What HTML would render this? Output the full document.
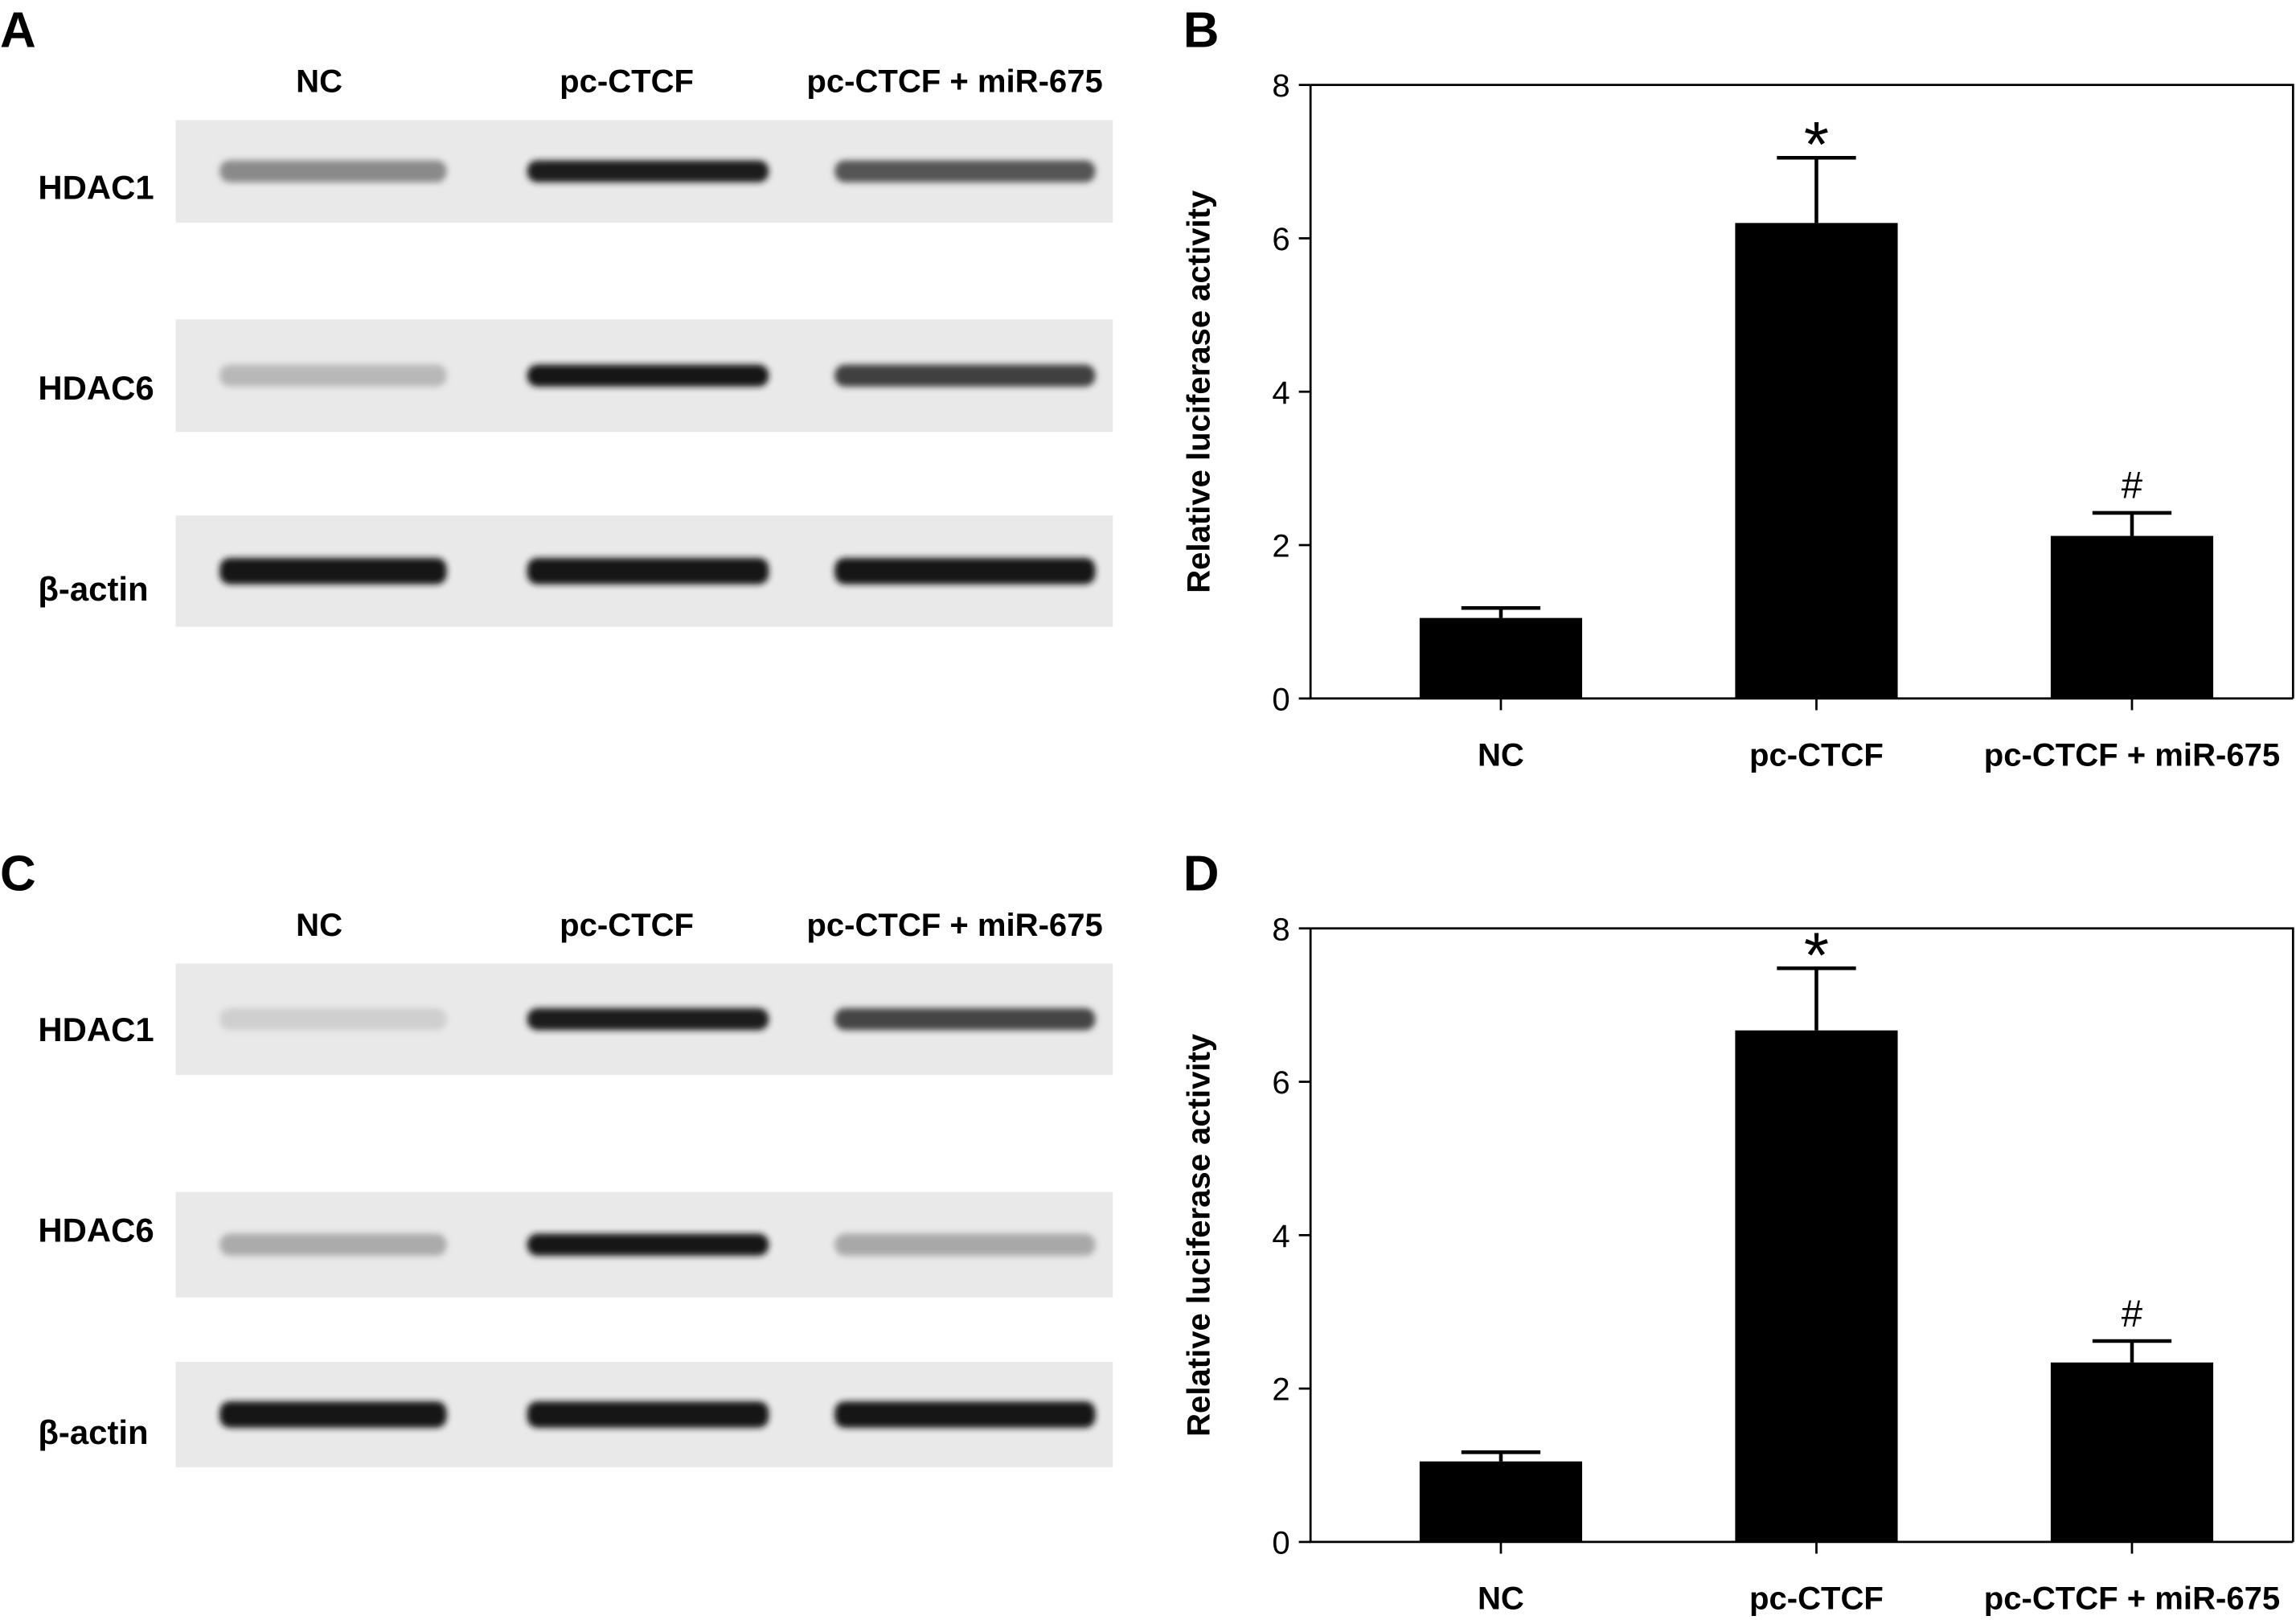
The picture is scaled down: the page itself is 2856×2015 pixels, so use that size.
<!DOCTYPE html>
<html><head><meta charset="utf-8"><style>
html,body{margin:0;padding:0;background:#fff;}
svg{display:block;font-family:"Liberation Sans","DejaVu Sans",sans-serif;}
</style></head><body>
<svg id="fig" width="2856" height="2015" viewBox="0 0 1568 1106.3" xmlns="http://www.w3.org/2000/svg">
<defs><filter id="blur" x="-10%" y="-50%" width="120%" height="200%"><feGaussianBlur stdDeviation="2.2"/></filter></defs>
<g id="blots"></g>
<g id="chartB"></g>
<g id="chartD"></g>
<text x="0" y="32" font-size="34" font-weight="bold">A</text>
<text x="808" y="32" font-size="34" font-weight="bold">B</text>
<text x="0" y="608" font-size="34" font-weight="bold">C</text>
<text x="808" y="608" font-size="34" font-weight="bold">D</text>
</svg>
<script>
const NS="http://www.w3.org/2000/svg";
const categories=["NC","pc-CTCF","pc-CTCF + miR-675"];
const valuesB=[1.05,6.2,2.12];
const errorsB=[0.13,0.85,0.3];
const marksB=["","*","#"];
const valuesD=[1.05,6.67,2.34];
const errorsD=[0.12,0.81,0.28];
const marksD=["","*","#"];
const yTicks=[0,2,4,6,8];
const blotRows=["HDAC1","HDAC6","β-actin"];
const bandShadesA=[["#8a8a8a","#1e1e1e","#555"],["#b8b8b8","#141414","#404040"],["#141414","#141414","#141414"]];
const bandShadesC=[["#cfcfcf","#1e1e1e","#444"],["#ababab","#141414","#a8a8a8"],["#141414","#141414","#141414"]];

function mk(tag,attrs,parent){const e=document.createElementNS(NS,tag);for(const k in attrs)e.setAttribute(k,attrs[k]);parent.appendChild(e);return e;}

function chart(g,top,values,errors,marks,prefix){
  const x0=895,x1=1566,y0=top+419,yT=top;
  const y=v=>y0-(v/8)*(y0-yT);
  const xc=i=>1025+i*215.5;
  const bw=111;
  let ax=mk("path",{d:`M${x0},${yT}H${x1}V${y0}M${x0},${yT}V${y0}H${x1}`,stroke:"#000","stroke-width":1.5,fill:"none"},g);
  
  
  yTicks.forEach(t=>{
    const l=mk("line",{x1:x0-8,x2:x0,y1:y(t),y2:y(t),stroke:"#000","stroke-width":1.5},g);
    
    
    const tx=mk("text",{x:x0-14,y:y(t)+8,"font-size":22,"text-anchor":"end"},g);tx.textContent=t;
    
    
  });
  const yt=mk("text",{x:0,y:0,"font-size":22,"font-weight":"bold","text-anchor":"middle",transform:`translate(826,${(yT+y0)/2}) rotate(-90)`},g);
  yt.textContent="Relative luciferase activity";
  
  
  categories.forEach((c,i)=>{
    const cx=xc(i);
    const b=mk("rect",{x:cx-bw/2,y:y(values[i]),width:bw,height:y0-y(values[i]),fill:"#000"},g);
    
    
    const e=mk("path",{d:`M${cx},${y(values[i])}V${y(values[i]+errors[i])}M${cx-27},${y(values[i]+errors[i])}H${cx+27}`,stroke:"#000","stroke-width":2.5,fill:"none"},g);
    
    
    const tk=mk("line",{x1:cx,x2:cx,y1:y0,y2:y0+8,stroke:"#000","stroke-width":1.5},g);
    
    
    const lb=mk("text",{x:cx,y:y0+46,"font-size":22,"font-weight":"bold","text-anchor":"middle"},g);lb.textContent=c;
    
    
    if(marks[i]){
      const m=mk("text",{x:cx,y:y(values[i]+errors[i])-(marks[i]=="*"?-6:10),"font-size":marks[i]=="*"?44:26,"text-anchor":"middle"},g);m.textContent=marks[i];
      
      
    }
  });
}
chart(document.getElementById("chartB"),58,valuesB,errorsB,marksB,"chart-b");
chart(document.getElementById("chartD"),634,valuesD,errorsD,marksD,"chart-d");

function blot(g,headY,rows,labelYs,shades,prefix){
  const lx=[218,428,652];
  categories.forEach((c,i)=>{
    const t=mk("text",{x:lx[i],y:headY,"font-size":22,"font-weight":"bold","text-anchor":"middle"},g);t.textContent=c;
    
    
  });
  const lanes=[[150,305],[360,525],[570,748]];
  rows.forEach((r,k)=>{
    const [by,bh]=r;
    const box=mk("rect",{x:120,y:by,width:640,height:bh,fill:"#e9e9e9"},g);
    
    
    const lab=mk("text",{x:26,y:labelYs[k]+8,"font-size":23,"font-weight":"bold"},g);lab.textContent=blotRows[k];
    
    
    lanes.forEach((l,i)=>{
      const h=k==2?18:15;
      const band=mk("rect",{x:l[0],y:by+bh/2-h/2,width:l[1]-l[0],height:h,rx:7,fill:shades[k][i],filter:"url(#blur)"},g);
      
      
    });
  });
}
const bl=document.getElementById("blots");
blot(bl,63,[[82,70],[218,77],[352,76]],[128,265,402],bandShadesA,"panel-a");
blot(bl,639,[[658,76],[814,72],[930,72]],[703,840,978],bandShadesC,"panel-c");
</script>
</body></html>
